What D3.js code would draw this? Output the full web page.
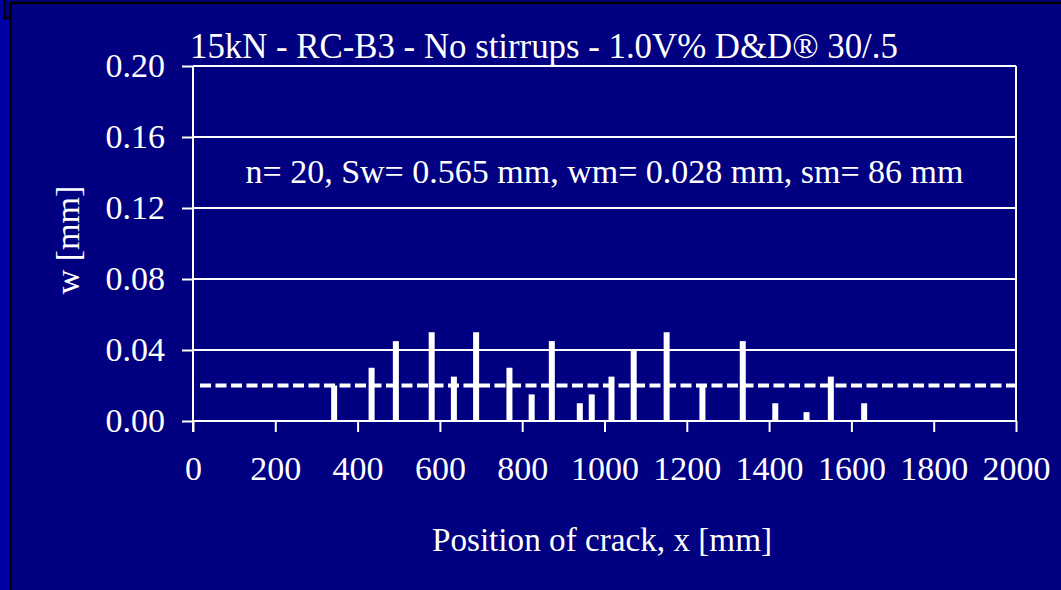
<!DOCTYPE html>
<html>
<head>
<meta charset="utf-8">
<script src="https://cdn.jsdelivr.net/npm/d3@7"></script>
<style>
  html, body { margin: 0; padding: 0; background: #000080; }
  svg { display: block; }
  text { font-family: "Liberation Serif", "Times New Roman", serif; fill: #ffffff; }
</style>
</head>
<body>
<svg id="chart" width="1061" height="590"></svg>
<script>
// Crack positions along the beam [mm] and measured crack widths [mm]
const crackPositions = [343, 434, 493, 580, 634, 688, 769, 823, 872, 940,
                        969, 1017, 1071, 1151, 1238, 1336, 1415, 1491, 1550, 1631];
const crackWidths = [0.020, 0.030, 0.045, 0.050, 0.025, 0.050, 0.030, 0.015, 0.045, 0.010,
                     0.015, 0.025, 0.040, 0.050, 0.020, 0.045, 0.010, 0.005, 0.025, 0.010];
const referenceWidth = 0.02;
const xTicks = [0, 200, 400, 600, 800, 1000, 1200, 1400, 1600, 1800, 2000];
const yTicks = [0.00, 0.04, 0.08, 0.12, 0.16, 0.20];

const titleText = "15kN - RC-B3 - No stirrups - 1.0V% D&D\u00AE 30/.5";
const statsText = "n= 20, Sw= 0.565 mm, wm= 0.028 mm, sm= 86 mm";
const xLabel = "Position of crack, x [mm]";
const yLabel = "w [mm]";

const svg = d3.select("#chart");
const W = 1061, H = 590;
const plotLeft = 193, plotRight = 1016, plotTop = 66, plotBottom = 421;
const fontSize = 34;

const x = d3.scaleLinear().domain([0, 2000]).range([plotLeft, plotRight]);
const y = d3.scaleLinear().domain([0, 0.2]).range([plotBottom, plotTop]);

// Slide background and frame
svg.append("rect").attr("width", W).attr("height", H).attr("fill", "#000080");
svg.append("rect").attr("x", 0).attr("y", 19).attr("width", 10).attr("height", H - 19).attr("fill", "#0000a6");
svg.append("rect").attr("x", 0).attr("y", 0).attr("width", 4).attr("height", 19).attr("fill", "#0000a6");
svg.append("path")
  .attr("d", "M4.5,0 V18 H10.5 M10.5,3 V590 M10,3 H1061")
  .attr("fill", "none").attr("stroke", "#000").attr("stroke-width", 2.5);

const white = "#ffffff";

// Horizontal gridlines (the top one closes the plot frame)
svg.append("g").selectAll("line")
  .data(yTicks.filter(d => d > 0))
  .join("line")
  .attr("x1", plotLeft).attr("x2", plotRight)
  .attr("y1", d => y(d)).attr("y2", d => y(d))
  .attr("stroke", white).attr("stroke-width", 2);

// Right frame edge
svg.append("line")
  .attr("x1", plotRight).attr("x2", plotRight).attr("y1", plotTop).attr("y2", plotBottom)
  .attr("stroke", white).attr("stroke-width", 2);

// X axis
const xAxis = d3.axisBottom(x).tickValues(xTicks).tickSize(11).tickPadding(24)
  .tickFormat(d3.format("d"));
const gx = svg.append("g").attr("transform", `translate(0,${plotBottom})`).call(xAxis);
gx.select(".domain").attr("stroke", white).attr("stroke-width", 2)
  .attr("d", `M${plotLeft},0H${plotRight}`);
gx.selectAll(".tick line").attr("stroke", white).attr("stroke-width", 2);
gx.selectAll(".tick text").attr("font-size", fontSize)
  .attr("font-family", "Liberation Serif, serif").attr("fill", white);

// Y axis
const yAxis = d3.axisLeft(y).tickValues(yTicks).tickSize(11).tickPadding(17)
  .tickFormat(d3.format(".2f"));
const gy = svg.append("g").attr("transform", `translate(${plotLeft},0)`).call(yAxis);
gy.select(".domain").attr("stroke", white).attr("stroke-width", 2)
  .attr("d", `M0,${plotTop}V${plotBottom + 11}`);
gy.selectAll(".tick line").attr("stroke", white).attr("stroke-width", 2);
gy.selectAll(".tick text").attr("font-size", fontSize)
  .attr("font-family", "Liberation Serif, serif").attr("fill", white);

// Crack width bars
const barW = 6;
svg.append("g").selectAll("rect")
  .data(crackPositions.map((p, i) => ({ p, w: crackWidths[i] })))
  .join("rect")
  .attr("x", d => x(d.p) - barW / 2)
  .attr("y", d => y(d.w))
  .attr("width", barW)
  .attr("height", d => y(0) - y(d.w))
  .attr("fill", white);

// Reference crack width line
svg.append("line")
  .attr("x1", x(17)).attr("x2", plotRight)
  .attr("y1", y(referenceWidth)).attr("y2", y(referenceWidth))
  .attr("stroke", white).attr("stroke-width", 4)
  .attr("stroke-dasharray", "11,4.5");

// Texts
svg.append("text").attr("x", 190).attr("y", 58)
  .attr("font-size", 34.8).text(titleText);
svg.append("text").attr("x", (plotLeft + plotRight) / 2).attr("y", 183)
  .attr("text-anchor", "middle").attr("font-size", fontSize).text(statsText);
svg.append("text").attr("x", 602).attr("y", 551)
  .attr("text-anchor", "middle").attr("font-size", 33.2).text(xLabel);
svg.append("text")
  .attr("transform", "translate(79,240) rotate(-90)")
  .attr("text-anchor", "middle").attr("font-size", fontSize).text(yLabel);
</script>
</body>
</html>
